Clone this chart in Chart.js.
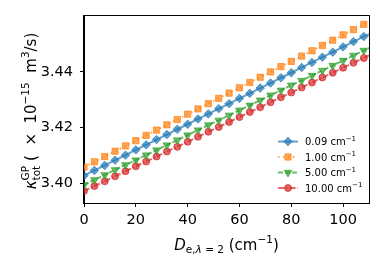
<!DOCTYPE html>
<html>
<head>
<meta charset="utf-8">
<script src="https://cdn.jsdelivr.net/npm/chart.js"></script>
<style>
html, body { margin: 0; padding: 0; background: #fff; }
#wrap { width: 380px; height: 266px; position: relative; }
</style>
</head>
<body>
<div id="wrap"><canvas id="grafico"></canvas></div>
<script>
// D_e (cm^-1) sampled positions
const xs = [0, 4, 8, 12, 16, 20, 24, 28, 32, 36, 40, 44, 48, 52, 56, 60, 64, 68, 72, 76, 80, 84, 88, 92, 96, 100, 104, 108, 110];

// kappa_tot^GP (x 1e-15 m^3/s) for each width
const k009 = [3.4027, 3.4046, 3.4064, 3.4083, 3.4101, 3.4120, 3.4138, 3.4157, 3.4175, 3.4194, 3.4212, 3.4231, 3.4249, 3.4268, 3.4286, 3.4305, 3.4323, 3.4342, 3.4360, 3.4379, 3.4397, 3.4416, 3.4434, 3.4453, 3.4471, 3.4490, 3.4509, 3.4527, 3.4536];
const k100 = [3.4058, 3.4077, 3.4096, 3.4115, 3.4134, 3.4153, 3.4172, 3.4191, 3.4210, 3.4229, 3.4248, 3.4267, 3.4286, 3.4305, 3.4324, 3.4343, 3.4362, 3.4381, 3.4400, 3.4419, 3.4438, 3.4457, 3.4476, 3.4495, 3.4514, 3.4533, 3.4552, 3.4571, 3.4581];
const k500 = [3.3994, 3.4012, 3.4030, 3.4048, 3.4066, 3.4083, 3.4101, 3.4119, 3.4137, 3.4155, 3.4173, 3.4191, 3.4209, 3.4226, 3.4244, 3.4262, 3.4280, 3.4298, 3.4316, 3.4334, 3.4352, 3.4369, 3.4387, 3.4405, 3.4423, 3.4441, 3.4459, 3.4477, 3.4486];
const k1000 = [3.3972, 3.3990, 3.4007, 3.4025, 3.4043, 3.4061, 3.4078, 3.4096, 3.4114, 3.4131, 3.4149, 3.4167, 3.4185, 3.4202, 3.4220, 3.4238, 3.4256, 3.4273, 3.4291, 3.4309, 3.4326, 3.4344, 3.4362, 3.4380, 3.4397, 3.4415, 3.4433, 3.4450, 3.4459];

const labels = ['0.09', '1.00', '5.00', '10.00'];
const xTicks = [0, 20, 40, 60, 80, 100];
const yTicks = [3.40, 3.42, 3.44];

const FAM = '"DejaVu Sans"';
Chart.defaults.font.family = FAM;
Chart.defaults.color = '#000';

function pts(ys) { return ys.map((y, i) => ({ x: xs[i], y: y })); }
// last point only carries the line to the axis edge
function rad(r) { return c => (c.dataIndex < xs.length - 1 ? r : 0); }

const series = [
  { data: k009, color: 'rgba(31,119,180,0.7)', style: 'rectRot', rot: 0, r: 4.2, dash: [] },
  { data: k100, color: 'rgba(255,127,14,0.7)', style: 'rect', rot: 0, r: 4.4, dash: [1.5, 3.5] },
  { data: k500, color: 'rgba(44,160,44,0.7)', style: 'triangle', rot: 180, r: 4.4, dash: [5, 2] },
  { data: k1000, color: 'rgba(214,39,40,0.7)', style: 'circle', rot: 0, r: 3.5, dash: [6, 2, 1.5, 2] }
];

// text with sub/superscripts drawn on the canvas
function fnt(r) { return (r.i ? 'italic ' : '') + (r.s || 15) + 'px ' + FAM; }
function wOf(ctx, r) {
  if (r.stack) return Math.max(...r.stack.map(p => wOf(ctx, p)));
  ctx.font = fnt(r);
  return ctx.measureText(r.t).width;
}
function drawRuns(ctx, runs, x, y, center) {
  let cx = x;
  if (center) cx -= runs.reduce((a, r) => a + wOf(ctx, r), 0) / 2;
  ctx.textAlign = 'left';
  ctx.textBaseline = 'alphabetic';
  ctx.fillStyle = '#000';
  runs.forEach(r => {
    const w = wOf(ctx, r);
    (r.stack || [r]).forEach(p => { ctx.font = fnt(p); ctx.fillText(p.t, cx, y + (p.dy || 0)); });
    cx += w;
  });
}

const yTitle = [
  { t: 'κ', i: true },
  { stack: [{ t: 'GP', s: 10.5, dy: -7 }, { t: 'tot', s: 10.5, dy: 3.5 }] },
  { t: ' (  ×  10' },
  { t: '−15', s: 10.5, dy: -7 },
  { t: '  m' },
  { t: '3', s: 10.5, dy: -7 },
  { t: '/s)' }
];
const xTitle = [
  { t: 'D', i: true },
  { t: 'e,', s: 10.5, dy: 3 },
  { t: 'λ', s: 10.5, i: true, dy: 3 },
  { t: ' = 2', s: 10.5, dy: 3 },
  { t: ' (cm' },
  { t: '−1', s: 10.5, dy: -7 },
  { t: ')' }
];

const decor = {
  id: 'decor',
  afterDraw(chart) {
    const ctx = chart.ctx, a = chart.chartArea;
    ctx.save();
    ctx.strokeStyle = '#000';
    ctx.lineWidth = 1;
    ctx.strokeRect(Math.round(a.left) - 0.5, Math.round(a.top) - 0.5, Math.round(a.right - a.left) + 1, Math.round(a.bottom - a.top) + 1);

    drawRuns(ctx, xTitle, (a.left + a.right) / 2, 250, true);

    ctx.save();
    ctx.translate(36, 111);
    ctx.rotate(-Math.PI / 2);
    drawRuns(ctx, yTitle, 0, 0, true);
    ctx.restore();

    // legend
    series.forEach((s, i) => {
      const y = 141.5 + i * 15.5;
      ctx.strokeStyle = s.color;
      ctx.fillStyle = s.color;
      ctx.lineWidth = 2;
      ctx.setLineDash(s.dash);
      ctx.beginPath();
      ctx.moveTo(278, y);
      ctx.lineTo(298, y);
      ctx.stroke();
      ctx.setLineDash([]);
      ctx.lineWidth = 1;
      Chart.helpers.drawPoint(ctx, { pointStyle: s.style, rotation: s.rot, radius: s.r, borderWidth: 1 }, 288, y);
      drawRuns(ctx, [{ t: labels[i] + ' cm', s: 10 }, { t: '−1', s: 7, dy: -4.5 }], 305, y + 3.6, false);
    });
    ctx.restore();
  }
};

new Chart(document.getElementById('grafico'), {
  type: 'line',
  data: {
    datasets: series.map((s, i) => ({
      label: labels[i],
      data: pts(s.data),
      borderColor: s.color,
      backgroundColor: s.color,
      borderWidth: 2,
      borderDash: s.dash,
      pointStyle: s.style,
      rotation: s.rot,
      pointRadius: rad(s.r),
      pointBorderWidth: 1,
      tension: 0
    }))
  },
  options: {
    responsive: true,
    maintainAspectRatio: false,
    animation: false,
    devicePixelRatio: 1,
    layout: { padding: { left: 0, right: 11, top: 11, bottom: 0 } },
    plugins: { legend: { display: false }, tooltip: { enabled: false } },
    scales: {
      x: {
        type: 'linear',
        min: 0,
        max: 110,
        afterBuildTicks: sc => { sc.ticks = xTicks.map(v => ({ value: v })); },
        afterFit: sc => { sc.height = 63; },
        ticks: { font: { size: 14.5 }, padding: 5, maxRotation: 0, callback: v => String(v) },
        grid: { drawOnChartArea: false, drawTicks: true, tickLength: 4, color: '#000' },
        border: { display: true, color: '#000', width: 1 }
      },
      y: {
        min: 3.3929,
        max: 3.4602,
        afterBuildTicks: sc => { sc.ticks = yTicks.map(v => ({ value: v })); },
        afterFit: sc => { sc.width = 84; },
        ticks: { font: { size: 14.5 }, padding: 7, callback: v => v.toFixed(2) },
        grid: { drawOnChartArea: false, drawTicks: true, tickLength: 4, color: '#000' },
        border: { display: true, color: '#000', width: 1 }
      }
    }
  },
  plugins: [decor]
});
</script>
</body>
</html>
